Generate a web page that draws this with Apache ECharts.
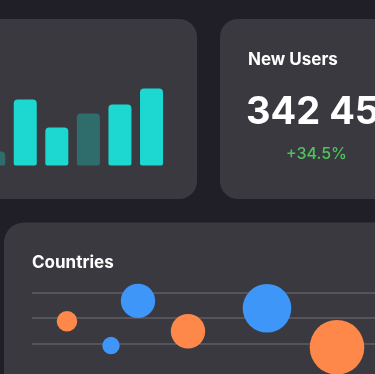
<!DOCTYPE html>
<html>
<head>
<meta charset="utf-8">
<style>
  html, body { margin: 0; padding: 0; background: #201f27; }
  #chart { width: 375px; height: 374px; }
</style>
<script src="https://cdn.jsdelivr.net/npm/echarts@6/dist/echarts.min.js"></script>
</head>
<body>
<div id="chart"></div>
<script>
// ---- data ----
const barIndex = [0, 1, 2, 3, 4, 5];
const barValues = [14, 66, 38, 52, 61, 77];
const kpiTitle = 'New Users';
const kpiValue = '342 453';
const kpiChange = '+34.5%';
const scatterTitle = 'Countries';
const yTicks = [1, 2, 3];
const orangeX = [35, 156, 305];
const orangeY = [1.87, 1.48, 0.85];
const orangeSize = [20.5, 34.4, 54.6];
const blueX = [79, 106, 235];
const blueY = [0.92, 2.67, 2.38];
const blueSize = [17.4, 34.4, 48.6];

// ---- style ----
const BG = '#201f27';
const CARD = '#3a3940';
const TEAL = '#1dd8d0';
const TEAL_DIM = '#2e6d6c';
const dimIndices = [0, 3];
const ORANGE = '#fd884a';
const BLUE = '#3d96f8';
const FONT = 'Inter, "Noto Sans", sans-serif';

const chart = echarts.init(document.getElementById('chart'), null, { renderer: 'canvas' });

const zip = (xs, ys, ss) => xs.map((x, i) => [x, ys[i], ss[i]]);

chart.setOption({
  backgroundColor: BG,
  animation: false,
  graphic: [
    { type: 'rect', z: -10, shape: { x: -40, y: 19, width: 237, height: 180, r: 18 }, style: { fill: CARD } },
    { type: 'rect', z: -10, shape: { x: 220, y: 19, width: 220, height: 180, r: 18 }, style: { fill: CARD } },
    { type: 'rect', z: -10, shape: { x: 4, y: 222.5, width: 420, height: 200, r: 20 }, style: { fill: CARD } },
    { type: 'text', style: { text: kpiTitle, x: 248, y: 59.5, fill: '#ffffff', font: '700 17px ' + FONT, verticalAlign: 'middle' } },
    { type: 'text', style: { text: kpiValue, x: 246, y: 113, fill: '#ffffff', font: '700 38px ' + FONT, verticalAlign: 'middle' } },
    { type: 'text', style: { text: kpiChange, x: 286, y: 154, fill: '#4cc45c', font: '500 16px ' + FONT, verticalAlign: 'middle' } },
    { type: 'text', style: { text: scatterTitle, x: 32, y: 262.5, fill: '#ffffff', font: '700 17px ' + FONT, verticalAlign: 'middle' } }
  ],
  grid: [
    { left: 0, top: 65.5, width: 167.3, height: 100, containLabel: false },
    { left: 32, top: 292.5, width: 343, height: 51, containLabel: false }
  ],
  xAxis: [
    { gridIndex: 0, type: 'value', min: 0.2, max: 5.5, show: false },
    { gridIndex: 1, type: 'value', min: 0, max: 343, show: false }
  ],
  yAxis: [
    { gridIndex: 0, type: 'value', min: 0, max: 100, show: false },
    {
      gridIndex: 1, type: 'value', min: yTicks[0], max: yTicks[yTicks.length - 1], interval: 1,
      axisLine: { show: false }, axisTick: { show: false }, axisLabel: { show: false },
      splitLine: { show: true, lineStyle: { color: '#55545b', width: 2 } }
    }
  ],
  series: [
    {
      type: 'bar', xAxisIndex: 0, yAxisIndex: 0, barWidth: 23, clip: true,
      data: barValues.map((v, i) => ({
        value: [barIndex[i], v],
        itemStyle: { color: dimIndices.includes(i) ? TEAL_DIM : TEAL, borderRadius: [4, 4, 2, 2] }
      }))
    },
    {
      type: 'scatter', xAxisIndex: 1, yAxisIndex: 1, clip: false,
      data: zip(orangeX, orangeY, orangeSize),
      symbolSize: d => d[2],
      itemStyle: { color: ORANGE, opacity: 1 }
    },
    {
      type: 'scatter', xAxisIndex: 1, yAxisIndex: 1, clip: false,
      data: zip(blueX, blueY, blueSize),
      symbolSize: d => d[2],
      itemStyle: { color: BLUE, opacity: 1 }
    }
  ]
});
</script>
</body>
</html>
